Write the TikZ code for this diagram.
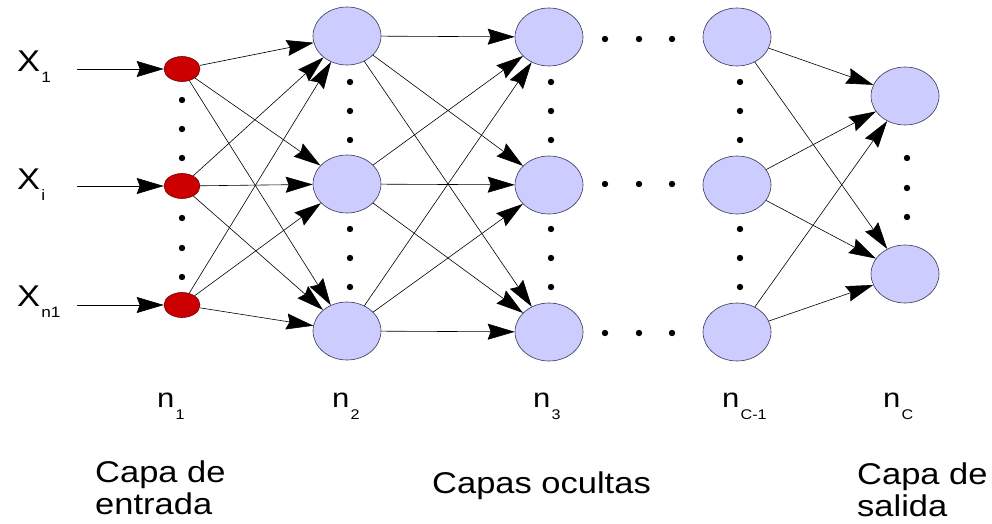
\documentclass[tikz,border=0pt]{standalone}
\usepackage{fontspec}
\setmainfont{Liberation Sans}
\usetikzlibrary{shapes.geometric,arrows.meta}
\definecolor{lav}{RGB}{204,204,255}
\definecolor{edgecol}{RGB}{55,55,80}
\definecolor{redfill}{RGB}{204,0,0}
\definecolor{redline}{RGB}{110,0,0}
\newcommand{\stretchtxt}[1]{\scalebox{1.15}[1]{#1}}
\begin{document}
\begin{tikzpicture}[x=1pt,y=-1pt,
  neuron/.style={ellipse,draw=edgecol,line width=0.6pt,fill=lav,minimum width=68pt,minimum height=58pt,inner sep=0pt},
  inneuron/.style={ellipse,draw=redline,line width=0.6pt,fill=redfill,minimum width=36pt,minimum height=25pt,inner sep=0pt},
  conn/.style={line width=0.6pt,-{Stealth[length=27pt,width=16pt,inset=3pt]}},
  lbl/.style={inner sep=0pt,anchor=base west,font=\fontsize{30}{34}\selectfont},
  nlbl/.style={inner sep=0pt,anchor=base west,font=\fontsize{27}{30}\selectfont},
  caption/.style={inner sep=0pt,anchor=north west,align=left,font=\fontsize{30}{32}\selectfont},
  ldot/.style={fill=black}
]
\path[fill=white,use as bounding box] (0,0) rectangle (992,524);

% input layer
\node[inneuron] (r1) at (182,69) {};
\node[inneuron] (r2) at (182,186) {};
\node[inneuron] (r3) at (182,305) {};
% hidden layer 2
\node[neuron] (a1) at (347,36) {};
\node[neuron] (a2) at (347,184) {};
\node[neuron] (a3) at (347,331) {};
% hidden layer 3
\node[neuron] (b1) at (549,37) {};
\node[neuron] (b2) at (549,185) {};
\node[neuron] (b3) at (549,332) {};
% hidden layer c-1
\node[neuron] (c1) at (737,37) {};
\node[neuron] (c2) at (737,185) {};
\node[neuron] (c3) at (737,332) {};
% output layer
\node[neuron] (o1) at (905,96) {};
\node[neuron] (o2) at (905,274) {};

% input labels
\node[lbl] (x1) at (17,72) {\stretchtxt{X\kern1pt\raisebox{-11pt}{\fontsize{15}{15}\selectfont 1}}};
\node[lbl] (xi) at (17,189) {\stretchtxt{X\kern1pt\raisebox{-11pt}{\fontsize{15}{15}\selectfont i}}};
\node[lbl] (xn) at (17,306) {\stretchtxt{X\kern1pt\raisebox{-11pt}{\fontsize{15}{15}\selectfont n1}}};

% input arrows
\coordinate (i1) at (77,69);
\coordinate (i2) at (77,186);
\coordinate (i3) at (77,305);
\draw[conn] (i1) -- (r1);
\draw[conn] (i2) -- (r2);
\draw[conn] (i3) -- (r3);

% connections
\foreach \p in {r1,r2,r3}{\foreach \q in {a1,a2,a3}{\draw[conn] (\p) -- (\q);}}
\foreach \p in {a1,a2,a3}{\foreach \q in {b1,b2,b3}{\draw[conn] (\p) -- (\q);}}
\foreach \p in {c1,c2,c3}{\foreach \q in {o1,o2}{\draw[conn] (\p) -- (\q);}}

% vertical dots
\foreach \xx in {182}{\foreach \yy in {100,129,158,218,248,277}{\fill[ldot] (\xx,\yy) circle[radius=3.2];}}
\foreach \xx in {350,551,740}{\foreach \yy in {82,111,140,229,258,287}{\fill[ldot] (\xx,\yy) circle[radius=3.2];}}
\foreach \yy in {158,188,217}{\fill[ldot] (907,\yy) circle[radius=3.2];}
% horizontal dots
\foreach \yy in {39,184,333}{\foreach \xx in {605,639,672}{\fill[ldot] (\xx,\yy) circle[radius=3.2];}}

% layer size labels
\node[nlbl] (n1) at (157,407) {\stretchtxt{n\kern1pt\raisebox{-12pt}{\fontsize{14}{14}\selectfont 1}}};
\node[nlbl] (n2) at (332,407) {\stretchtxt{n\kern1pt\raisebox{-12pt}{\fontsize{14}{14}\selectfont 2}}};
\node[nlbl] (n3) at (533,407) {\stretchtxt{n\kern1pt\raisebox{-12pt}{\fontsize{14}{14}\selectfont 3}}};
\node[nlbl] (nc1) at (722,407) {\stretchtxt{n\kern1pt\raisebox{-12pt}{\fontsize{14}{14}\selectfont C-1}}};
\node[nlbl] (nc) at (883,407) {\stretchtxt{n\kern1pt\raisebox{-12pt}{\fontsize{14}{14}\selectfont C}}};

% captions
\node[caption] (capin) at (95,461) {\stretchtxt{Capa de}\\\stretchtxt{entrada}};
\node[lbl] (caphid) at (432,493) {\stretchtxt{Capas ocultas}};
\node[caption] (capout) at (857,463) {\stretchtxt{Capa de}\\\stretchtxt{salida}};
\end{tikzpicture}
\end{document}
